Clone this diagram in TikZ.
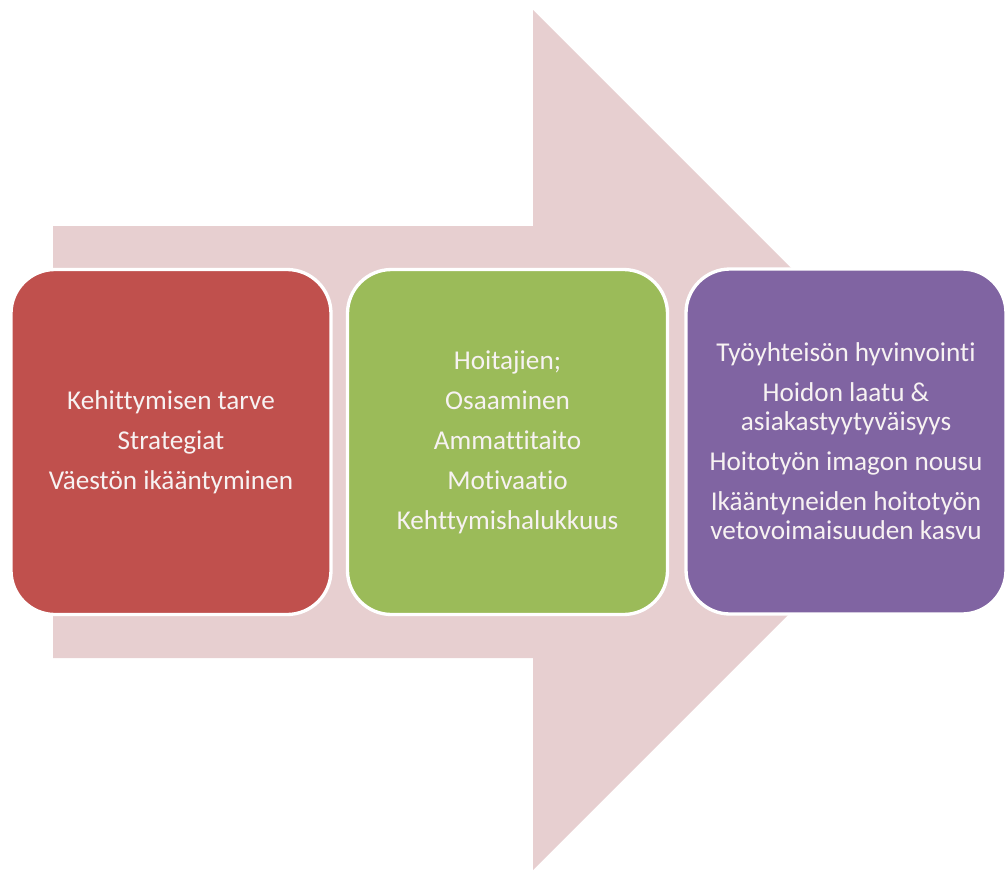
\documentclass[tikz,border=0pt]{standalone}
\usepackage{fontspec}
\setmainfont[Ligatures=NoCommon]{Carlito}
\definecolor{arrowpink}{HTML}{E7CFD0}
\definecolor{boxred}{HTML}{C0504D}
\definecolor{boxgreen}{HTML}{9BBB59}
\definecolor{boxpurple}{HTML}{8064A2}
\definecolor{txt}{HTML}{F7F2F2}
\begin{document}
\begin{tikzpicture}[x=0.75pt,y=-0.75pt,
  card/.style={draw=white, line width=2.5pt, rounded corners=33pt,
    minimum width=240pt, minimum height=258.75pt, align=center,
    text=txt, font=\fontsize{20.4pt}{21.75pt}\selectfont, inner sep=0pt}]
\useasboundingbox (0,0) rectangle (1006,871);
\fill[arrowpink] (53,226) -- (533,226) -- (533,10) -- (963,440) -- (533,870) -- (533,658) -- (53,658) -- cycle;
\node[card, fill=boxred] (red) at (171,442) {Kehittymisen tarve\\[8.25pt]Strategiat\\[8.25pt]Väestön ikääntyminen};
\node[card, fill=boxgreen] (green) at (507.5,442) {Hoitajien;\\[8.25pt]Osaaminen\\[8.25pt]Ammattitaito\\[8.25pt]Motivaatio\\[8.25pt]Kehttymishalukkuus};
\node[card, fill=boxpurple] (purple) at (846,441.5) {Työyhteisön hyvinvointi\\[8.25pt]Hoidon laatu \&\\asiakastyytyväisyys\\[8.25pt]Hoitotyön imagon nousu\\[8.25pt]Ikääntyneiden hoitotyön\\vetovoimaisuuden kasvu};
\end{tikzpicture}
\end{document}
